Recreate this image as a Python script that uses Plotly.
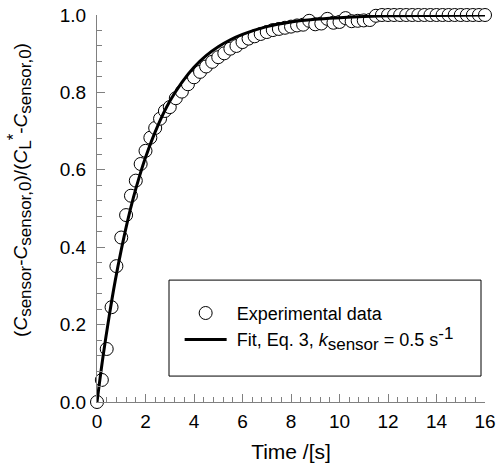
import plotly.graph_objects as go

exp_t = [0, 0.2, 0.4, 0.6, 0.8, 1.0, 1.2, 1.4, 1.6, 1.8, 2.0, 2.2, 2.4, 2.6, 2.8,
         3.0, 3.25, 3.5, 3.75, 4.0, 4.25, 4.5, 4.75, 5.0, 5.25, 5.5, 5.75, 6.0,
         6.25, 6.5, 6.75, 7.0, 7.25, 7.5, 7.75, 8.0, 8.25, 8.5, 8.75, 9.0, 9.25,
         9.5, 9.75, 10.0, 10.25, 10.5, 10.75, 11.0, 11.25, 11.5, 11.75, 12.0,
         12.25, 12.5, 12.75, 13.0, 13.25, 13.5, 13.75, 14.0, 14.25, 14.5, 14.75,
         15.0, 15.25, 15.5, 15.75, 16.0]
exp_y = [0.0, 0.057, 0.137, 0.245, 0.351, 0.425, 0.483, 0.533, 0.572, 0.615, 0.649,
         0.683, 0.708, 0.732, 0.752, 0.762, 0.785, 0.802, 0.821, 0.839, 0.853,
         0.867, 0.879, 0.891, 0.901, 0.913, 0.920, 0.930, 0.939, 0.945, 0.951,
         0.956, 0.961, 0.964, 0.967, 0.970, 0.973, 0.975, 0.985, 0.976, 0.978,
         0.990, 0.980, 0.982, 0.992, 0.984, 0.985, 0.986, 0.987, 0.998, 1.0, 1.0,
         1.0, 1.0, 1.0, 1.0, 1.0, 1.0, 1.0, 1.0, 1.0, 1.0, 1.0, 1.0, 1.0, 1.0,
         1.0, 1.0]

# Fit curve
fit_t = [0, 0.25, 0.5, 0.75, 1.0, 1.25, 1.5, 1.75, 2.0, 2.5, 3.0, 3.5, 4.0, 4.5,
         5.0, 5.5, 6.0, 7.0, 8.0, 9.0, 10.0, 11.0, 12.0, 14.0, 16.0]
fit_y = [0.0, 0.118, 0.221, 0.313, 0.393, 0.465, 0.528, 0.583, 0.632, 0.713,
         0.777, 0.826, 0.865, 0.895, 0.918, 0.936, 0.950, 0.970, 0.982, 0.989,
         0.993, 0.996, 0.998, 0.999, 1.0]

x_ticks = [0, 2, 4, 6, 8, 10, 12, 14, 16]
y_ticks = [0.0, 0.2, 0.4, 0.6, 0.8, 1.0]

FONT = "Liberation Sans, Arial, Helvetica, sans-serif"
AX = "#808080"


def sub(t, px):
    return '<sub><span style="font-size:%dpx">%s</span></sub>' % (px, t)


def sup(t, px):
    return '<sup><span style="font-size:%dpx">%s</span></sup>' % (px, t)


fit_name = "&nbsp;Fit, Eq. 3, <i>k</i>" + sub("sensor", 17) + " = 0.5 s" + sup("-1", 17)
y_title = ("(<i>C</i>" + sub("sensor", 17) + "-<i>C</i>" + sub("sensor,0", 17)
           + ")/(<i>C</i>" + sub("L", 17) + sup("*", 17) + "-<i>C</i>"
           + sub("sensor,0", 17) + ")")

fig = go.Figure()
fig.add_trace(go.Scatter(
    x=exp_t, y=exp_y, mode="markers", name="&nbsp;Experimental data",
    marker=dict(symbol="circle", size=13, color="white",
                line=dict(color="black", width=1)),
    cliponaxis=False, legendgroup="a"))
fig.add_trace(go.Scatter(
    x=fit_t, y=fit_y, mode="lines", name=fit_name,
    line=dict(color="black", width=3, shape="spline"),
    cliponaxis=False, legendgroup="b"))

fig.add_shape(type="rect", xref="paper", yref="paper",
              x0=0.1856, x1=0.9897, y0=0.067, y1=0.315,
              line=dict(color="black", width=1), fillcolor="white", layer="below")

fig.add_annotation(text=y_title, xref="paper", yref="paper", x=0, y=0.548,
                   xanchor="center", yanchor="middle", xshift=-77,
                   textangle=-90, showarrow=False, font=dict(size=19))

fig.update_layout(
    width=497, height=476,
    margin=dict(l=97, r=12, t=15, b=74, autoexpand=False),
    paper_bgcolor="white", plot_bgcolor="white",
    font=dict(family=FONT, size=18, color="black"),
    showlegend=True,
    legend=dict(x=0.213, y=0.277, xanchor="left", yanchor="top",
                bgcolor="rgba(0,0,0,0)", borderwidth=0,
                font=dict(size=18), itemwidth=42,
                traceorder="grouped", tracegroupgap=0),
    xaxis=dict(range=[0, 16], tickvals=x_ticks, ticks="inside", ticklen=8,
               tickcolor=AX, tickwidth=1, showline=True, linecolor=AX,
               linewidth=1, showgrid=False, zeroline=False, automargin=False,
               minor=dict(dtick=0.4, ticks="inside", ticklen=5, tickcolor=AX,
                          showgrid=False),
               tickfont=dict(size=19), ticklabelstandoff=2,
               title=dict(text="Time /[s]", font=dict(size=21), standoff=13)),
    yaxis=dict(range=[0, 1], tickvals=y_ticks, tickformat=".1f", ticks="inside",
               ticklen=8, tickcolor=AX, tickwidth=1, showline=True,
               linecolor=AX, linewidth=1, showgrid=False, zeroline=False,
               automargin=False,
               minor=dict(dtick=0.04, ticks="inside", ticklen=5, tickcolor=AX,
                          showgrid=False),
               tickfont=dict(size=19), ticklabelstandoff=6),
)

fig.write_html("out.html",
               config={"displayModeBar": False},
               post_script="document.body.style.margin='0';"
                           "document.body.style.overflow='hidden';")
